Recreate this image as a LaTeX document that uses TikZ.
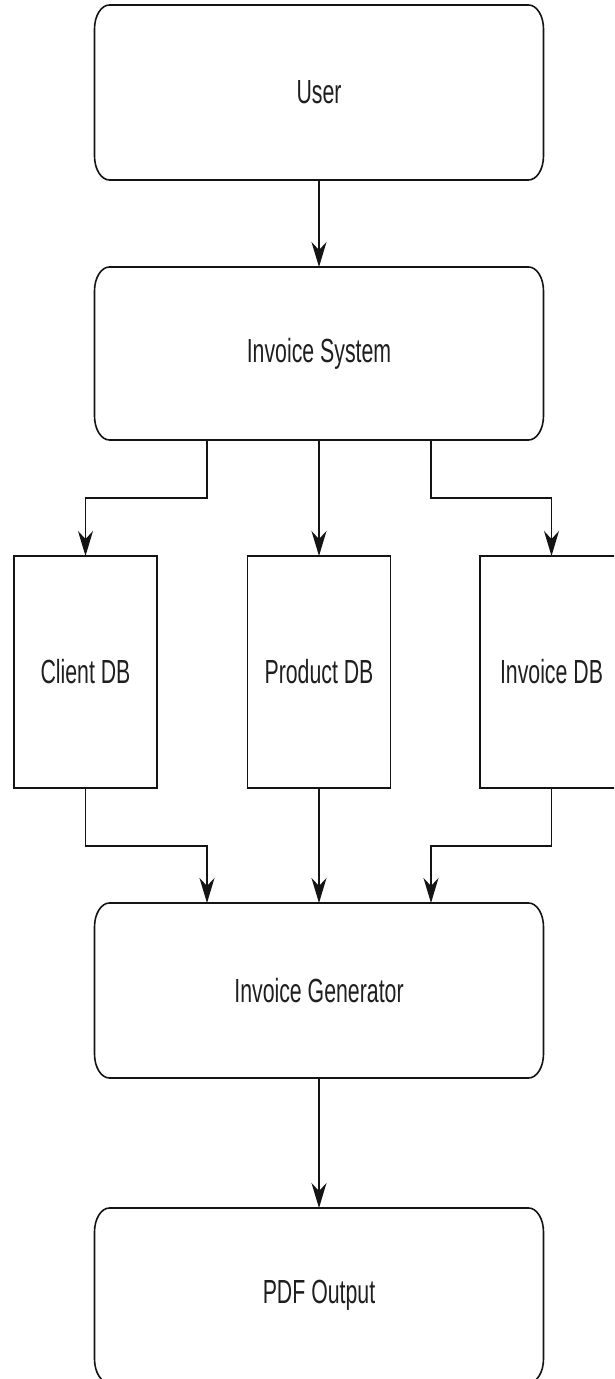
\documentclass[tikz,border=0pt]{standalone}
\usepackage{fontspec}
\usepackage{graphicx}
\setmainfont{Liberation Sans}
\usetikzlibrary{arrows.meta,calc}
\tikzset{
  box/.style={draw=none,inner sep=0pt,outer sep=0pt,minimum width=449pt,minimum height=175pt,
    font=\fontsize{21.3pt}{25pt}\selectfont,text=black!88},
  dbbox/.style={draw=black!92,line width=1.6pt,inner sep=0pt,outer sep=0pt,minimum width=143pt,minimum height=232pt,
    font=\fontsize{21.3pt}{25pt}\selectfont,text=black!88},
  outline/.style={draw=black!92,line width=1.6pt},
  arr/.style={draw=black!92,line width=1.4pt,-{Stealth[length=25pt,width=15pt,inset=8pt]}},
  plain/.style={draw=black!92,line width=1.4pt}
}
\newcommand\tallt[1]{\scalebox{1}[1.57]{#1}}
\newcommand\rbox[1]{%
  \draw[outline] ([xshift=15pt]#1.north west) -- ([xshift=-15pt]#1.north east)
    arc[start angle=90,end angle=0,x radius=15pt,y radius=24pt]
    -- ([yshift=24pt]#1.south east)
    arc[start angle=0,end angle=-90,x radius=15pt,y radius=24pt]
    -- ([xshift=15pt]#1.south west)
    arc[start angle=270,end angle=180,x radius=15pt,y radius=24pt]
    -- ([yshift=-24pt]#1.north west)
    arc[start angle=180,end angle=90,x radius=15pt,y radius=24pt] -- cycle;}
\begin{document}
\begin{tikzpicture}[x=1pt,y=1pt]
\useasboundingbox (0,0) rectangle (614,1379);
\begin{scope}
\clip (0,0) rectangle (614,1379);
\node[box] (user) at (319,1286.5) {\tallt{User}};
\node[box,minimum height=173pt] (sys) at (319,1025.5) {\tallt{Invoice System}};
\node[dbbox] (client) at (85.5,707) {\tallt{Client DB}};
\node[dbbox] (product) at (319,707) {\tallt{Product DB}};
\node[dbbox] (invdb) at (551.5,707) {\tallt{Invoice DB}};
\node[box] (gen) at (319,388.5) {\tallt{Invoice Generator}};
\node[box] (pdf) at (319,83.5) {\tallt{PDF Output}};
\rbox{user}
\rbox{sys}
\rbox{gen}
\rbox{pdf}
\draw[arr] (user.south) -- (sys.north);
\draw[arr] ([xshift=-112pt]sys.south) -- ++(0,-58) -| (client.north);
\draw[arr] (sys.south) -- (product.north);
\draw[arr] ([xshift=112pt]sys.south) -- ++(0,-58) -| (invdb.north);
\draw[arr] (client.south) -- ++(0,-58) -| ([xshift=-112pt]gen.north);
\draw[arr] (product.south) -- (gen.north);
\draw[arr] (invdb.south) -- ++(0,-58) -| ([xshift=112pt]gen.north);
\draw[arr] (gen.south) -- (pdf.north);
\end{scope}
\end{tikzpicture}
\end{document}
